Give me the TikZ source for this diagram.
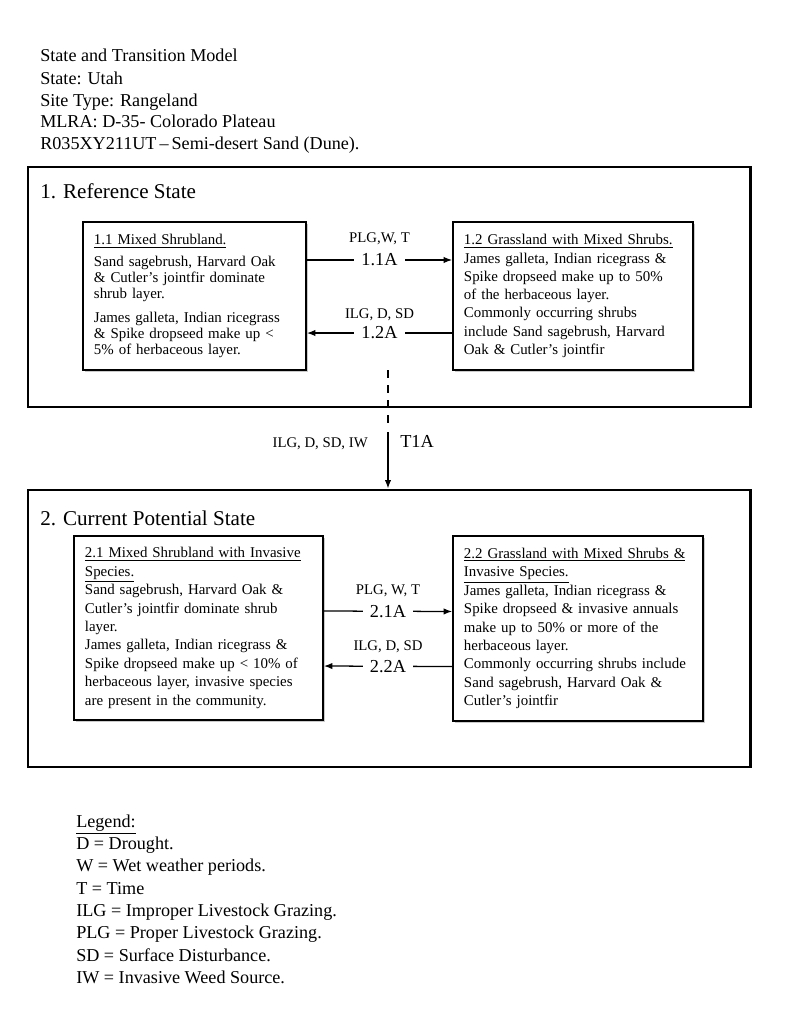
\documentclass[tikz,border=0pt]{standalone}
\usepackage{fontspec}
\setmainfont{Liberation Serif}
\usetikzlibrary{arrows, arrows.meta, positioning, shadows}

\begin{document}
\begin{tikzpicture}[x=0.025cm, y=-0.025cm,
  plain/.style={anchor=base west, inner sep=0pt, font=\fontsize{12.9}{15}\selectfont},
  statetitle/.style={anchor=base west, inner sep=0pt, font=\fontsize{15}{18}\selectfont},
  statebox/.style={rectangle, draw=black, line width=2pt, minimum width=18.05cm, inner sep=0pt},
  phasebox/.style={rectangle, draw=black, line width=1.2pt, fill=white, align=left, inner xsep=0.275cm, inner ysep=2pt,
    drop shadow={shadow xshift=1.2pt, shadow yshift=-1.2pt, fill=black!35, opacity=0.6}},
  conn/.style={draw=black, line width=0.9pt},
  tip/.style={-{Latex[length=6pt, width=4.5pt]}},
  cause/.style={inner sep=0pt, font=\fontsize{10.5}{12}\selectfont},
  code/.style={fill=white, inner xsep=5pt, inner ysep=1pt, font=\fontsize{13}{15}\selectfont}]
  \useasboundingbox (0,0) rectangle (800,1013);

  \node[plain] (hdr1) at (40,61) {State and Transition Model};
  \node[plain] (hdr2) at (40,84) {State: Utah};
  \node[plain] (hdr3) at (40,106) {Site Type: Rangeland};
  \node[plain] (hdr4) at (40,127) {MLRA: D-35- Colorado Plateau};
  \node[plain] (hdr5) at (40,149) {R035XY211UT\,--\,Semi-desert Sand (Dune).};

  \node[statebox, minimum height=6cm] (s1) at (389,287) {};
  \node[statetitle] (s1title) at (40,198) {1. Reference State};
  \node[statebox, minimum height=6.925cm] (s2) at (389,628.5) {};
  \node[statetitle] (s2title) at (40,525) {2. Current Potential State};

  \node[phasebox, text width=5.025cm, minimum height=3.7cm, font=\fontsize{10.6}{11.4}\selectfont] (s11) at (194.5,296) {%
    \underline{1.1 Mixed Shrubland.}\\[4pt]
    Sand sagebrush, Harvard Oak\\
    \& Cutler's jointfir dominate\\
    shrub layer.\\[5.5pt]
    James galleta, Indian ricegrass\\
    \& Spike dropseed make up <\\
    5\% of herbaceous layer.};
  \node[phasebox, text width=5.45cm, minimum height=3.7cm, font=\fontsize{10.6}{13}\selectfont] (s12) at (573,296) {%
    \underline{1.2 Grassland with Mixed Shrubs.}\\
    James galleta, Indian ricegrass \&\\
    Spike dropseed make up to 50\%\\
    of the herbaceous layer.\\
    Commonly occurring shrubs\\
    include Sand sagebrush, Harvard\\
    Oak \& Cutler's jointfir};
  \node[phasebox, text width=5.675cm, minimum height=4.6cm, font=\fontsize{10.6}{13.1}\selectfont] (s21) at (198.5,628) {%
    \underline{2.1 Mixed Shrubland with Invasive}\\
    \underline{Species.}\\
    Sand sagebrush, Harvard Oak \&\\
    Cutler's jointfir dominate shrub\\
    layer.\\
    James galleta, Indian ricegrass \&\\
    Spike dropseed make up < 10\% of\\
    herbaceous layer, invasive species\\
    are present in the community.};
  \node[phasebox, text width=5.7cm, minimum height=4.625cm, font=\fontsize{10.6}{13.1}\selectfont] (s22) at (578,628.5) {%
    \underline{2.2 Grassland with Mixed Shrubs \&}\\
    \underline{Invasive Species.}\\
    James galleta, Indian ricegrass \&\\
    Spike dropseed \& invasive annuals\\
    make up to 50\% or more of the\\
    herbaceous layer.\\
    Commonly occurring shrubs include\\
    Sand sagebrush, Harvard Oak \&\\
    Cutler's jointfir};

  \draw[conn, tip] ([yshift=0.9cm]s11.east) -- ([yshift=0.9cm]s12.west)
    node[midway, code] (p11a) {1.1A}
    node[midway, cause, anchor=base, yshift=0.425cm] (p11b) {PLG,W, T};
  \draw[conn, tip] ([yshift=-0.925cm]s12.west) -- ([yshift=-0.925cm]s11.east)
    node[midway, code] (p12a) {1.2A}
    node[midway, cause, anchor=base, yshift=0.375cm] (p12b) {ILG, D, SD};
  \draw[conn, tip] ([yshift=0.425cm]s21.east) -- ([yshift=0.425cm]s22.west)
    node[midway, code] (p21a) {2.1A}
    node[midway, cause, anchor=base, yshift=0.425cm] (p21b) {PLG, W, T};
  \draw[conn, tip] ([yshift=-0.95cm]s22.west) -- ([yshift=-0.95cm]s21.east)
    node[midway, code] (p22a) {2.2A}
    node[midway, cause, anchor=base, yshift=0.4cm] (p22b) {ILG, D, SD};

  \coordinate (t1top) at (388,370);
  \coordinate (t1mid) at (388,425);
  \coordinate (t1low) at (388,432);
  \draw[conn, line width=1.2pt, dash pattern=on 0.2cm off 0.175cm] (t1top) -- (t1mid);
  \draw[conn, tip] (t1low) -- (t1low |- s2.north);
  \node[cause, anchor=base east] (t1cause) at (368,447) {ILG, D, SD, IW};
  \node[code, anchor=base west, fill=none, inner sep=0pt] (t1code) at (400,447) {T1A};

  \node[plain] (leg0) at (76,827) {\underline{Legend:}};
  \node[plain] (leg1) at (76,849) {D = Drought.};
  \node[plain] (leg2) at (76,871) {W = Wet weather periods.};
  \node[plain] (leg3) at (76,894) {T = Time};
  \node[plain] (leg4) at (76,916) {ILG = Improper Livestock Grazing.};
  \node[plain] (leg5) at (76,938) {PLG = Proper Livestock Grazing.};
  \node[plain] (leg6) at (76,961) {SD = Surface Disturbance.};
  \node[plain] (leg7) at (76,983) {IW = Invasive Weed Source.};
\end{tikzpicture}
\end{document}
